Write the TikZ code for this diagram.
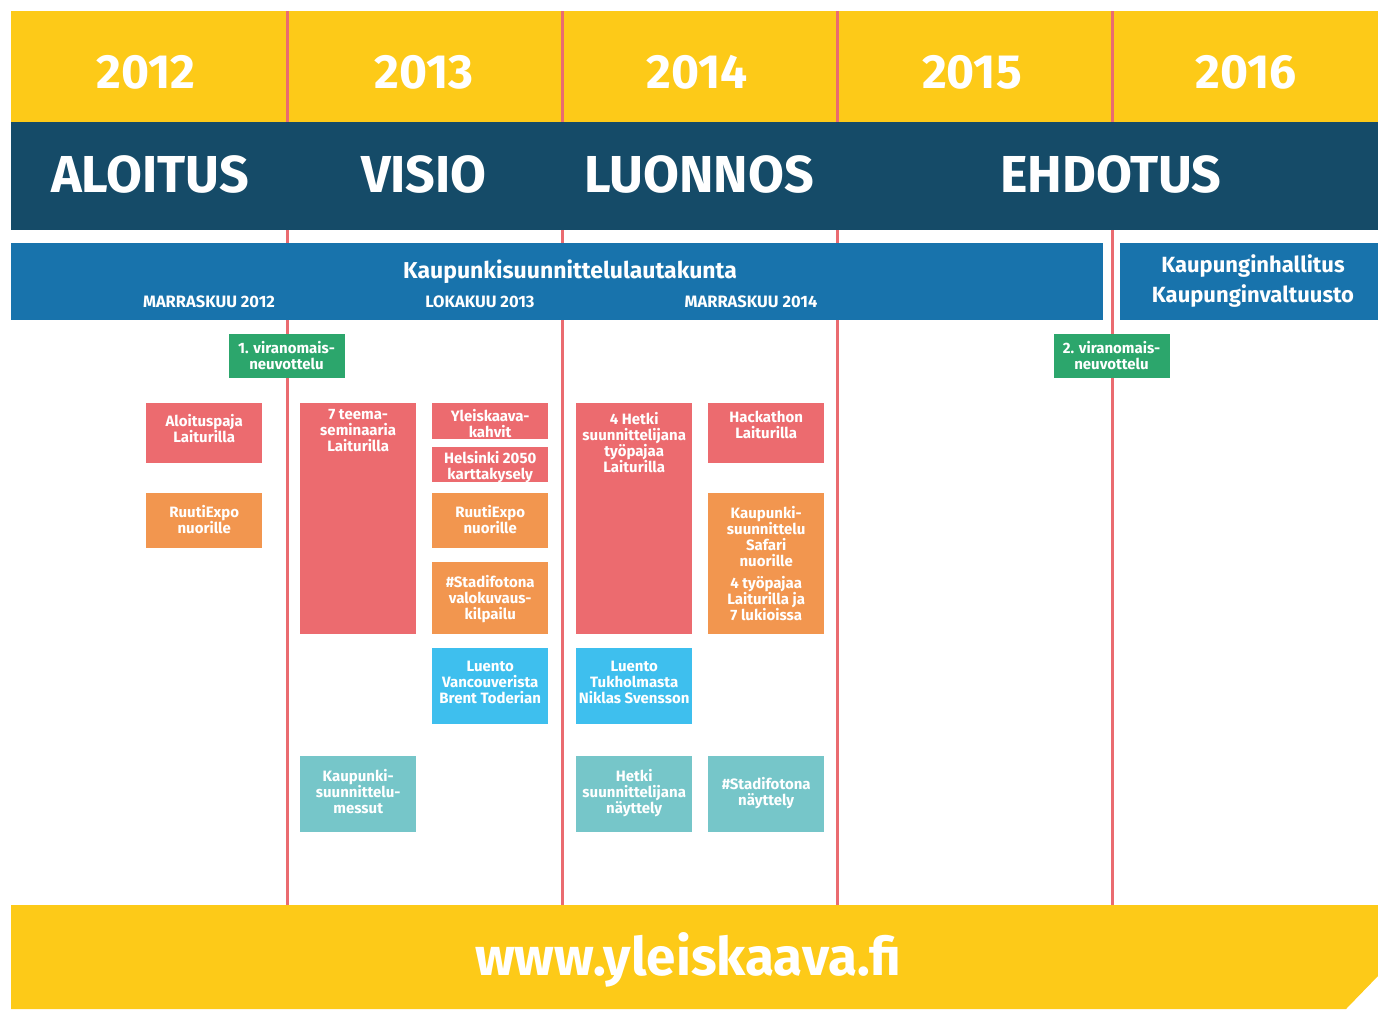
\documentclass[tikz,border=0pt]{standalone}
\usepackage{fontspec}
\setmainfont{Fira Sans}
\usetikzlibrary{positioning}
\definecolor{sun}{HTML}{FDCA18}
\definecolor{navy}{HTML}{154B68}
\definecolor{board}{HTML}{1873AC}
\definecolor{coral}{HTML}{EC6B6F}
\definecolor{peach}{HTML}{F2964F}
\definecolor{sky}{HTML}{3EBFEE}
\definecolor{aqua}{HTML}{76C6C9}
\definecolor{mint}{HTML}{2CA66C}
\definecolor{divider}{HTML}{EA6B70}
\newcommand\evfont{\fontsize{15}{16}\selectfont\bfseries}

\begin{document}
\begin{tikzpicture}[x=1pt,y=-1pt]
\tikzset{band/.style={fill=#1,inner sep=0pt,anchor=north west},
  evbox/.style={fill=#1,inner sep=0pt,minimum width=116pt,anchor=north west},
  evtext/.style={text=white,font=\evfont,align=center,inner sep=0pt},
  meet/.style={fill=mint,text=white,font=\evfont,align=center,inner sep=0pt,minimum width=116pt,minimum height=44pt},
  yeartext/.style={text=white,font=\fontsize{#1}{#1}\selectfont\bfseries},
  yeartext/.default=52,
  bandtext/.style={text=white,font=#1\bfseries,inner sep=0pt},
  divline/.style={draw=divider,line width=3pt}}
\useasboundingbox (0,0) rectangle (1378,1009);
% years
\node[band=sun,minimum width=1367pt,minimum height=111pt] (years) at (11,11) {};
\foreach \yr/\cx in {2012/146,2013/424,2014/697,2015/972,2016/1246}
  \node[yeartext=48] (y\yr) at (\cx,72) {\yr};
\foreach \x in {287,562,837,1112}
  \draw[divline] (\x,11) -- (\x,905);
% phases
\node[band=navy,minimum width=1367pt,minimum height=108pt] (phases) at (11,122) {};
\node[yeartext] (aloitus) at (150,174) {ALOITUS};
\node[yeartext] (visio) at (424,174) {VISIO};
\node[yeartext] (luonnos) at (699,174) {LUONNOS};
\node[yeartext] (ehdotus) at (1111,174) {EHDOTUS};
% decision makers
\node[band=board,minimum width=1092pt,minimum height=77pt] (ksla) at (11,243) {};
\node[band=board,minimum width=258pt,minimum height=77pt] (khs) at (1120,243) {};
\node[bandtext=\fontsize{23}{26}\selectfont,anchor=base] (kslaT) at (570,278) {Kaupunkisuunnittelulautakunta};
\node[bandtext=\fontsize{16.5}{18}\selectfont,anchor=base] (m12) at (209,307) {MARRASKUU 2012};
\node[bandtext=\fontsize{16.5}{18}\selectfont,anchor=base] (l13) at (480,307) {LOKAKUU 2013};
\node[bandtext=\fontsize{16.5}{18}\selectfont,anchor=base] (m14) at (751,307) {MARRASKUU 2014};
\node[bandtext=\fontsize{22}{30}\selectfont,align=center] (khsT) at (1253,281) {Kaupunginhallitus\\Kaupunginvaltuusto};
% authority meetings
\node[meet] (vn1) at (286.5,356) {1. viranomais-\\neuvottelu};
\node[meet] (vn2) at (1111.5,356) {2. viranomais-\\neuvottelu};
% events 2012
\node[evbox=coral,minimum height=60pt] (aloituspaja) at (146,403) {};
\node[evtext,below=11pt of aloituspaja.north] (aloituspajaT) {Aloituspaja\\Laiturilla};
\node[evbox=peach,minimum height=55pt] (ruuti1) at (146,493) {};
\node[evtext,below=12pt of ruuti1.north] (ruuti1T) {RuutiExpo\\nuorille};
% events 2013
\node[evbox=coral,minimum height=231pt] (teema) at (300,403) {};
\node[evtext,below=6pt of teema.north] (teemaT) {7 teema-\\seminaaria\\Laiturilla};
\node[evbox=coral,minimum height=36pt] (kahvit) at (432,403) {};
\node[evtext,below=6pt of kahvit.north] (kahvitT) {Yleiskaava-\\kahvit};
\node[evbox=coral,minimum height=35pt] (kysely) at (432,447) {};
\node[evtext,below=4pt of kysely.north] (kyselyT) {Helsinki 2050\\karttakysely};
\node[evbox=peach,minimum height=55pt] (ruuti2) at (432,493) {};
\node[evtext,below=12pt of ruuti2.north] (ruuti2T) {RuutiExpo\\nuorille};
\node[evbox=peach,minimum height=72pt] (kilpailu) at (432,562) {};
\node[evtext,below=13pt of kilpailu.north] (kilpailuT) {\#Stadifotona\\valokuvaus-\\kilpailu};
\node[evbox=sky,minimum height=76pt] (vancouver) at (432,648) {};
\node[evtext,below=13pt of vancouver.north] (vancouverT) {Luento\\Vancouverista\\Brent Toderian};
\node[evbox=aqua,minimum height=76pt] (messut) at (300,756) {};
\node[evtext,below=13pt of messut.north] (messutT) {Kaupunki-\\suunnittelu-\\messut};
% events 2014
\node[evbox=coral,minimum height=231pt] (tyopaja) at (576,403) {};
\node[evtext,below=9pt of tyopaja.north] (tyopajaT) {4 Hetki\\suunnittelijana\\työpajaa\\Laiturilla};
\node[evbox=coral,minimum height=60pt] (hackathon) at (708,403) {};
\node[evtext,below=8pt of hackathon.north] (hackathonT) {Hackathon\\Laiturilla};
\node[evbox=peach,minimum height=141pt] (safari) at (708,493) {};
\node[evtext,below=13pt of safari.north] (safariT) {Kaupunki-\\suunnittelu\\Safari\\nuorille\\[6pt]4 työpajaa\\Laiturilla ja\\7 lukioissa};
\node[evbox=sky,minimum height=76pt] (tukholma) at (576,648) {};
\node[evtext,below=13pt of tukholma.north] (tukholmaT) {Luento\\Tukholmasta\\Niklas Svensson};
\node[evbox=aqua,minimum height=76pt] (nayttely) at (576,756) {};
\node[evtext,below=13pt of nayttely.north] (nayttelyT) {Hetki\\suunnittelijana\\näyttely};
\node[evbox=aqua,minimum height=76pt] (fotonay) at (708,756) {};
\node[evtext,below=21pt of fotonay.north] (fotonayT) {\#Stadifotona\\näyttely};
% web address
\fill[sun] (11,905) -- (1378,905) -- (1378,976) -- (1346,1009) -- (11,1009) -- cycle;
\node[text=white,font=\fontsize{53}{53}\selectfont\bfseries,anchor=base] (web) at (688,975) {www.yleiskaava.fi};
\end{tikzpicture}
\end{document}
